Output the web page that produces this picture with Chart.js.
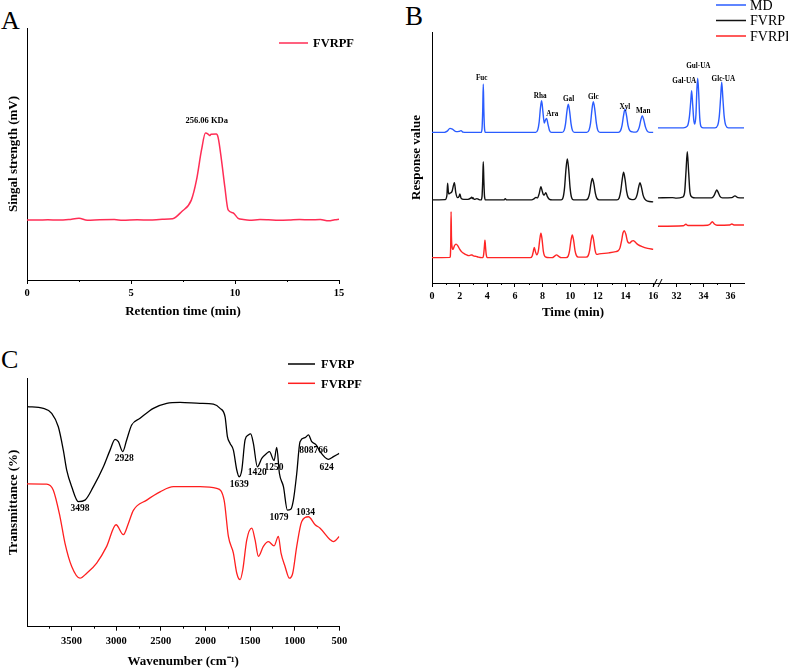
<!DOCTYPE html>
<html>
<head>
<meta charset="utf-8">
<script src="https://cdn.jsdelivr.net/npm/chart.js@4.4.1/dist/chart.umd.min.js"></script>
<style>
    body { margin: 0; background: #fff; width: 788px; height: 670px; position: relative; overflow: hidden;
           font-family: 'Liberation Serif', 'Times New Roman', serif; color: #000; }
    canvas { position: absolute; }
    .tag { position: absolute; font-size: 26px; line-height: 26px; }
    .axis-title { position: absolute; font-size: 13px; font-weight: bold; line-height: 16px; text-align: center; }
</style>
</head>
<body>
<div class="tag" style="left:1px;top:8px">A</div>
<div class="tag" style="left:405px;top:3px;font-size:27px;line-height:27px">B</div>
<div class="tag" style="left:1px;top:347px">C</div>

<canvas id="chartA" width="394" height="330" style="left:0;top:0"></canvas>
<canvas id="chartB1" width="268" height="330" style="left:400px;top:0"></canvas>
<canvas id="chartB2" width="148" height="330" style="left:640px;top:0"></canvas>
<canvas id="chartC" width="394" height="330" style="left:0;top:340px"></canvas>
<div class="axis-title" style="left:523px;top:304px;width:100px">Time (min)</div>

<script>
'use strict';

const serif = "'Liberation Serif', 'Times New Roman', serif";

// ---- Panel A: molecular weight (retention time, signal) ----
const gpcTrace = [
    [0, 23.8], [0.5, 23.8], [1.0, 23.9], [1.5, 23.8], [2.0, 24.0], [2.5, 24.5], [2.9, 23.7],
    [3.5, 23.9], [4.2, 24.0], [4.6, 23.7], [5.3, 23.9], [5.9, 23.8], [6.5, 24.1], [7.0, 24.3],
    [7.43, 27.1], [7.9, 31.7], [8.15, 39.7], [8.39, 51.6], [8.58, 58.3], [8.72, 57.8], [8.78, 57.3],
    [8.85, 57.8], [9.1, 57.9], [9.19, 56.5], [9.35, 47.6], [9.51, 37.0], [9.67, 27.8], [9.9, 26.7],
    [10.15, 24.5], [10.4, 24.0], [10.7, 23.7], [11.2, 24.0], [11.6, 23.9], [12.1, 23.7], [12.6, 23.8],
    [13.1, 24.0], [13.6, 23.9], [14.1, 24.0], [14.5, 23.5], [14.8, 23.9], [15.0, 24.1]
];
const gpcTicks = [0, 5, 10, 15];
const gpcMinorTicks = [2.5, 7.5, 12.5];
const gpcLabels = [{ text: '256.06 KDa', x: 8.64, y: 63.2 }];

// ---- Panel B: monosaccharide composition, left part (0-16 min) ----
const mdLeft = [
    [0, 60], [0.9, 60], [1.1, 60.5], [1.3, 61.6], [1.5, 61.2], [1.75, 60.3], [1.95, 60.4], [2.1, 60.7], [2.25, 60.1], [2.5, 60],
    [3.55, 60], [3.62, 61.5], [3.67, 69], [3.71, 79.3], [3.75, 69], [3.8, 61.5], [3.87, 60],
    [7.5, 60], [7.65, 61], [7.75, 64], [7.85, 70], [7.93, 72.6], [8.02, 68.5], [8.12, 63.7], [8.2, 64.9],
    [8.29, 65.6], [8.38, 63.5], [8.5, 60.8], [8.65, 60],
    [9.41, 60], [9.56, 60.8], [9.66, 63.4], [9.76, 68.3], [9.86, 71.2], [9.96, 68.3], [10.06, 63.4], [10.16, 60.8], [10.31, 60],
    [11.2, 60], [11.36, 60.9], [11.47, 63.7], [11.57, 69], [11.67, 72.2], [11.78, 69], [11.89, 63.7], [11.99, 60.9], [12.15, 60],
    [13.48, 60], [13.64, 60.7], [13.75, 62.8], [13.86, 66.8], [13.96, 69.2], [14.07, 66.8], [14.18, 62.8], [14.3, 60.8], [14.5, 60.2],
    [14.72, 60.1], [14.88, 60.6], [15.0, 62.2], [15.11, 65], [15.21, 66.7], [15.32, 65], [15.44, 62.2], [15.56, 60.6], [15.75, 60], [16, 60]
];
const fvrpLeft = [
    [0, 33.1], [0.95, 33.2], [1.08, 35], [1.13, 39.8], [1.2, 35.5], [1.3, 35.8], [1.45, 36.5], [1.62, 40], [1.72, 36],
    [1.85, 34], [1.96, 34.5], [2.02, 35.5], [2.1, 33.8], [2.3, 33.3], [2.6, 33.3], [2.8, 33.8], [2.87, 34.2], [2.92, 33.6],
    [2.96, 34], [3.05, 33.3], [3.25, 33.6], [3.4, 33.2],
    [3.55, 33.1], [3.62, 34.5], [3.67, 41], [3.71, 48.3], [3.75, 41], [3.8, 34.5], [3.87, 33.1],
    [5.2, 33.1], [5.3, 33.6], [5.4, 33.1],
    [7.2, 33.1], [7.4, 33.6], [7.52, 34.1], [7.62, 33.9], [7.75, 35.5], [7.88, 38.4], [7.98, 36.5], [8.08, 35], [8.16, 35.4],
    [8.24, 36], [8.34, 34.5], [8.5, 33.3], [8.7, 33.1],
    [9.34, 33.1], [9.49, 34.2], [9.59, 38], [9.69, 45.2], [9.79, 49.4], [9.89, 45.2], [9.99, 38], [10.09, 34.2], [10.25, 33.1],
    [11.13, 33.1], [11.29, 33.7], [11.4, 35.7], [11.5, 39.5], [11.6, 41.7], [11.71, 39.5], [11.82, 35.7], [11.93, 33.7], [12.1, 33.1],
    [13.38, 33.1], [13.54, 33.9], [13.65, 36.5], [13.76, 41.2], [13.86, 44.1], [13.97, 41.2], [14.08, 36.5], [14.2, 34], [14.4, 33.3],
    [14.55, 33.2], [14.72, 33.6], [14.84, 35.2], [14.95, 38.2], [15.04, 40], [15.15, 38.2], [15.27, 35], [15.4, 33.4], [15.6, 32.6], [16, 32.3]
];
const fvrpfLeft = [
    [0, 10.1], [1.3, 10.2], [1.35, 14], [1.38, 28.4], [1.41, 18], [1.45, 14.5], [1.52, 13.4], [1.62, 14.8], [1.74, 15.5],
    [1.86, 14.9], [2.0, 13.5], [2.15, 12.4], [2.35, 11.6], [2.5, 11.2], [2.65, 10.9], [2.8, 11.1], [2.9, 11.2], [3.0, 10.8],
    [3.2, 10.6], [3.35, 10.3], [3.6, 10.1],
    [3.68, 10.1], [3.74, 11.5], [3.79, 14.5], [3.83, 17.1], [3.87, 14.5], [3.92, 11.5], [3.99, 10.1],
    [7.1, 10.1], [7.25, 10.8], [7.33, 12.6], [7.4, 14.2], [7.48, 12.5], [7.58, 11.2], [7.7, 13], [7.8, 17.5], [7.88, 19.8],
    [7.96, 17.5], [8.06, 12.5], [8.2, 10.4], [8.5, 10.1],
    [8.7, 10.1], [8.85, 10.6], [9.01, 11.2], [9.17, 10.6], [9.35, 10.1],
    [9.7, 10.1], [9.85, 10.7], [9.95, 12.8], [10.05, 16.8], [10.15, 19.1], [10.25, 16.8], [10.35, 12.8], [10.45, 10.9], [10.6, 10.3],
    [11.15, 10.3], [11.3, 10.9], [11.4, 12.9], [11.5, 16.8], [11.6, 19.1], [11.7, 16.8], [11.8, 13], [11.92, 11.4], [12.1, 11.6],
    [12.8, 12], [13.3, 12.5],
    [13.45, 12.8], [13.6, 14], [13.72, 17], [13.82, 20], [13.91, 20.8], [14.02, 19.5], [14.15, 16.5], [14.3, 15.9], [14.45, 16.7],
    [14.56, 16.9], [14.7, 16.3], [14.9, 15.3], [15.2, 14.5], [15.6, 13.8], [16, 13.4]
];
const timeTicksLeft = [0, 2, 4, 6, 8, 10, 12, 14, 16];
const timeMinorLeft = [1, 3, 5, 7, 9, 11, 13, 15];
const sugarLabelsLeft = [
    { text: 'Fuc', x: 3.6, y: 81.7 }, { text: 'Rha', x: 7.83, y: 74.6 }, { text: 'Ara', x: 8.7, y: 67.3 },
    { text: 'Gal', x: 9.88, y: 73.3 }, { text: 'Glc', x: 11.67, y: 74.2 }, { text: 'Xyl', x: 13.96, y: 70.2 },
    { text: 'Man', x: 15.28, y: 68.5 }
];

// ---- Panel B: right part (31-37 min, uronic acids) ----
const mdRight = [
    [30.6, 61.8], [32.5, 61.8], [32.8, 62.5], [32.95, 66], [33.05, 72], [33.12, 76.6], [33.2, 71], [33.28, 65], [33.36, 63.3],
    [33.44, 67], [33.51, 77], [33.57, 81.6], [33.64, 76], [33.72, 66], [33.82, 62.3], [34.0, 61.8], [34.85, 61.8],
    [35.05, 62.8], [35.17, 66.5], [35.27, 74], [35.35, 80], [35.43, 74], [35.53, 66.5], [35.65, 62.8], [35.85, 61.8], [37, 61.8]
];
const fvrpRight = [
    [30.6, 33.9], [31.7, 34.0], [32.0, 33.8], [32.45, 34.2], [32.6, 36], [32.7, 44], [32.8, 52.3], [32.9, 44], [33.0, 36],
    [33.15, 34.2], [33.4, 33.9], [34.6, 33.9], [34.78, 34.8], [34.9, 36.3], [34.98, 37.1], [35.08, 36.2], [35.22, 34.5],
    [35.4, 33.9], [36.1, 34], [36.33, 34.7], [36.55, 34], [37, 33.9]
];
const fvrpfRight = [
    [30.6, 22.6], [32.5, 22.8], [32.7, 23.4], [32.85, 22.9], [33.5, 22.9], [34.3, 23], [34.5, 23.5], [34.65, 24.4],
    [34.8, 23.5], [35.0, 23], [35.9, 23.1], [36.1, 23.5], [36.3, 23.1], [37, 23.1]
];
const timeTicksRight = [32, 34, 36];
const timeMinorRight = [33, 35];
const sugarLabelsRight = [
    { text: 'Gal-UA', x: 32.58, y: 80.5 }, { text: 'Gul-UA', x: 33.62, y: 86.5 }, { text: 'Glc-UA', x: 35.47, y: 81.4 }
];

// ---- Panel C: FT-IR (wavenumber, transmittance) ----
const irFvrp = [
    [4000, 88.5], [3817, 87.8], [3723, 85.8], [3649, 80.4], [3593, 71.0], [3555, 63.0], [3499, 56.3], [3425, 50.3],
    [3350, 50.9], [3256, 56.3], [3144, 64.3], [3069, 71.0], [3013, 75.3], [2976, 74.4], [2927, 70.4], [2883, 75.1],
    [2827, 81.1], [2733, 83.8], [2584, 87.8], [2434, 89.8], [2285, 90.2], [2061, 89.8], [1911, 89.5], [1836, 87.8],
    [1780, 84.4], [1754, 76.4], [1724, 73.7], [1687, 71.0], [1649, 63.0], [1623, 60.3], [1593, 63.0], [1556, 75.1],
    [1519, 77.1], [1493, 77.5], [1463, 73.7], [1418, 64.3], [1369, 67.7], [1313, 69.7], [1283, 70.4], [1231, 66.8],
    [1201, 72.1], [1171, 61.6], [1126, 56.3], [1082, 46.9], [1044, 47.2], [1014, 51.0], [977, 61.6], [940, 74.4],
    [884, 76.0], [846, 77.1], [809, 74.4], [760, 73.1], [715, 70.4], [622, 67.3], [566, 68.4], [500, 69.7]
];
const irFvrpf = [
    [4000, 57.4], [3780, 57.3], [3705, 54.9], [3630, 44.2], [3574, 33.5], [3499, 24.2], [3406, 19.5], [3331, 21.5],
    [3219, 25.6], [3107, 32.3], [3002, 41.0], [2920, 37.0], [2864, 41.5], [2808, 46.8], [2658, 50.9], [2509, 54.2],
    [2359, 56.3], [2061, 56.3], [1874, 55.6], [1791, 50.9], [1743, 36.3], [1687, 29.6], [1649, 21.5], [1612, 18.9],
    [1582, 22.8], [1537, 34.9], [1481, 39.6], [1444, 34.9], [1407, 28.3], [1351, 32.3], [1295, 34.2], [1231, 32.5],
    [1183, 36.3], [1153, 29.6], [1108, 24.2], [1059, 19.5], [1022, 21.5], [977, 32.3], [921, 42.3], [846, 44.2],
    [771, 41.0], [715, 39.6], [603, 35.0], [566, 34.2], [500, 36.3]
];
const waveTicks = [500, 1000, 1500, 2000, 2500, 3000, 3500];
const waveMinor = [750, 1250, 1750, 2250, 2750, 3250, 3750];
const irLabels = [
    { text: '3498', x: 3406, y: 47.7 }, { text: '2928', x: 2910, y: 67.7 }, { text: '1639', x: 1621, y: 57.0 },
    { text: '1420', x: 1419, y: 61.8 }, { text: '1250', x: 1232, y: 63.8 }, { text: '1079', x: 1175, y: 43.7 },
    { text: '1034', x: 880, y: 45.7 }, { text: '808766', x: 790, y: 71.0 }, { text: '624', x: 641, y: 63.8 }
];

function toXY(points) {
    return points.map(p => ({ x: p[0], y: p[1] }));
}

function line(label, points, color, width) {
    return {
        label: label,
        data: toXY(points),
        borderColor: color,
        borderWidth: width,
        pointRadius: 0,
        fill: false,
        cubicInterpolationMode: 'monotone'
    };
}

// Small extra tick marks between the labelled ones
function minorTickPlugin(values, len) {
    return {
        id: 'minorTicks',
        afterDraw(chart) {
            const sx = chart.scales.x;
            const ctx = chart.ctx;
            ctx.save();
            ctx.strokeStyle = '#000';
            ctx.lineWidth = 1;
            values.forEach(v => {
                const px = Math.round(sx.getPixelForValue(v)) + 0.5;
                ctx.beginPath();
                ctx.moveTo(px, sx.top);
                ctx.lineTo(px, sx.top + len);
                ctx.stroke();
            });
            ctx.restore();
        }
    };
}

// Peak / band labels placed in data coordinates
function textPlugin(items, size) {
    return {
        id: 'peakText',
        afterDatasetsDraw(chart) {
            const ctx = chart.ctx;
            ctx.save();
            ctx.font = 'bold ' + size + 'px ' + serif;
            ctx.fillStyle = '#000';
            ctx.textAlign = 'center';
            ctx.textBaseline = 'middle';
            items.forEach(it => {
                ctx.fillText(it.text, chart.scales.x.getPixelForValue(it.x), chart.scales.y.getPixelForValue(it.y));
            });
            ctx.restore();
        }
    };
}

// Simple line-sample legend
function legendPlugin(items, o) {
    return {
        id: 'sampleLegend',
        afterDraw(chart) {
            const ctx = chart.ctx;
            ctx.save();
            ctx.font = o.font;
            ctx.textBaseline = 'middle';
            ctx.textAlign = 'left';
            items.forEach((it, i) => {
                const y = o.y + i * o.step;
                ctx.strokeStyle = it.color;
                ctx.lineWidth = 1.5;
                ctx.beginPath();
                ctx.moveTo(o.x0, y);
                ctx.lineTo(o.x1, y);
                ctx.stroke();
                ctx.fillStyle = '#000';
                ctx.fillText(it.label, o.textX, y + 1);
            });
            ctx.restore();
        }
    };
}

// "//" marks of the broken time axis
const axisBreakPlugin = {
    id: 'axisBreak',
    afterDraw(chart) {
        const ctx = chart.ctx;
        const x = chart.chartArea.left;
        const y = chart.chartArea.bottom;
        ctx.save();
        ctx.strokeStyle = '#000';
        ctx.lineWidth = 1;
        ctx.beginPath();
        ctx.moveTo(x - 5, y + 4); ctx.lineTo(x - 1, y - 4);
        ctx.moveTo(x, y + 4); ctx.lineTo(x + 4, y - 4);
        ctx.stroke();
        ctx.restore();
    }
};

function xScale(min, max, ticks, fontSize, tickPad, height, extra) {
    return Object.assign({
        type: 'linear',
        min: min,
        max: max,
        afterBuildTicks: s => { s.ticks = ticks.map(v => ({ value: v })); },
        afterFit: s => { s.height = height; },
        ticks: {
            color: '#000',
            padding: tickPad,
            maxRotation: 0,
            autoSkip: false,
            font: { family: serif, size: fontSize, weight: 'bold' },
            callback: v => String(v)
        },
        grid: { display: true, drawOnChartArea: false, drawTicks: true, tickLength: 4, color: '#000', lineWidth: 1 },
        border: { display: true, color: '#000', width: 1 }
    }, extra || {});
}

function yScale(width, titleText, titlePad) {
    return {
        type: 'linear',
        min: 0,
        max: 100,
        afterFit: s => { s.width = width; },
        ticks: { display: false },
        grid: { display: false },
        border: { display: true, color: '#000', width: 1 },
        title: {
            display: !!titleText,
            text: titleText,
            color: '#000',
            font: { family: serif, size: 13, weight: 'bold' },
            padding: { top: titlePad, bottom: 0 }
        }
    };
}

function baseOptions(padding, scales, pluginOpts) {
    return {
        responsive: false,
        animation: false,
        events: [],
        layout: { padding: padding },
        plugins: Object.assign({ legend: { display: false }, tooltip: { enabled: false } }, pluginOpts || {}),
        scales: scales
    };
}

function xTitle(text, bottomPad) {
    return {
        display: true,
        text: text,
        color: '#000',
        font: { family: serif, size: 13, weight: 'bold' },
        padding: { top: 0, bottom: bottomPad }
    };
}

// Panel A
function initPanelA() {
    new Chart(document.getElementById('chartA'), {
        type: 'line',
        data: { datasets: [line('FVRPF', gpcTrace, '#ff2d55', 1.5)] },
        options: baseOptions({ top: 28, right: 55, left: 0, bottom: 0 }, {
            x: xScale(0, 15, gpcTicks, 10.5, 3, 50, { title: xTitle('Retention time (min)', 10.5) }),
            y: yScale(27, 'Singal strength (mV)', 6)
        }),
        plugins: [
            minorTickPlugin(gpcMinorTicks, 2),
            textPlugin(gpcLabels, 8.5),
            legendPlugin([{ label: 'FVRPF', color: '#ff2d55' }],
                { x0: 279, x1: 308, textX: 313, y: 43, step: 0, font: 'bold 12.5px ' + serif })
        ]
    });
}

// Panel B (two charts sharing the broken time axis)
function initPanelB() {
    new Chart(document.getElementById('chartB1'), {
        type: 'line',
        data: {
            datasets: [
                line('MD', mdLeft, '#2a5cff', 1.4),
                line('FVRP', fvrpLeft, '#111111', 1.4),
                line('FVRPF', fvrpfLeft, '#ff2525', 1.4)
            ]
        },
        options: baseOptions({ top: 32, right: 10, left: 0, bottom: 0 }, {
            x: xScale(0, 16.35, timeTicksLeft, 10, 3, 47),
            y: yScale(32, 'Response value', 9)
        }),
        plugins: [minorTickPlugin(timeMinorLeft, 2), textPlugin(sugarLabelsLeft, 7.2)]
    });

    const rightY = yScale(0, '', 0);
    rightY.display = false;
    new Chart(document.getElementById('chartB2'), {
        type: 'line',
        data: {
            datasets: [
                line('MD', mdRight, '#2a5cff', 1.4),
                line('FVRP', fvrpRight, '#111111', 1.4),
                line('FVRPF', fvrpfRight, '#ff2525', 1.4)
            ]
        },
        options: baseOptions({ top: 32, right: 44, left: 18, bottom: 0 }, {
            x: xScale(30.63, 37, timeTicksRight, 10, 3, 47),
            y: rightY
        }),
        plugins: [
            minorTickPlugin(timeMinorRight, 2),
            textPlugin(sugarLabelsRight, 7.2),
            axisBreakPlugin,
            legendPlugin([
                { label: 'MD', color: '#2a5cff' },
                { label: 'FVRP', color: '#111111' },
                { label: 'FVRPF', color: '#ff2525' }
            ], { x0: 76, x1: 106, textX: 110, y: 5, step: 15.5, font: '14px ' + serif })
        ]
    });
}

// Panel C
function initPanelC() {
    new Chart(document.getElementById('chartC'), {
        type: 'line',
        data: {
            datasets: [
                line('FVRP', irFvrp, '#000000', 1.3),
                line('FVRPF', irFvrpf, '#ff1f1f', 1.3)
            ]
        },
        options: baseOptions({ top: 38, right: 54.7, left: 0, bottom: 0 }, {
            x: xScale(500, 4000, waveTicks, 10.5, 4, 43.3, { reverse: true, title: xTitle('Wavenumber (cm\u207B\u00B9)', 0.5) }),
            y: yScale(27, 'Transmittance (%)', 6)
        }),
        plugins: [
            minorTickPlugin(waveMinor, 2),
            textPlugin(irLabels, 9.5),
            legendPlugin([
                { label: 'FVRP', color: '#000000' },
                { label: 'FVRPF', color: '#ff1f1f' }
            ], { x0: 288, x1: 315, textX: 321, y: 24, step: 19.3, font: 'bold 12.5px ' + serif })
        ]
    });
}

initPanelA();
initPanelB();
initPanelC();
</script>
</body>
</html>
